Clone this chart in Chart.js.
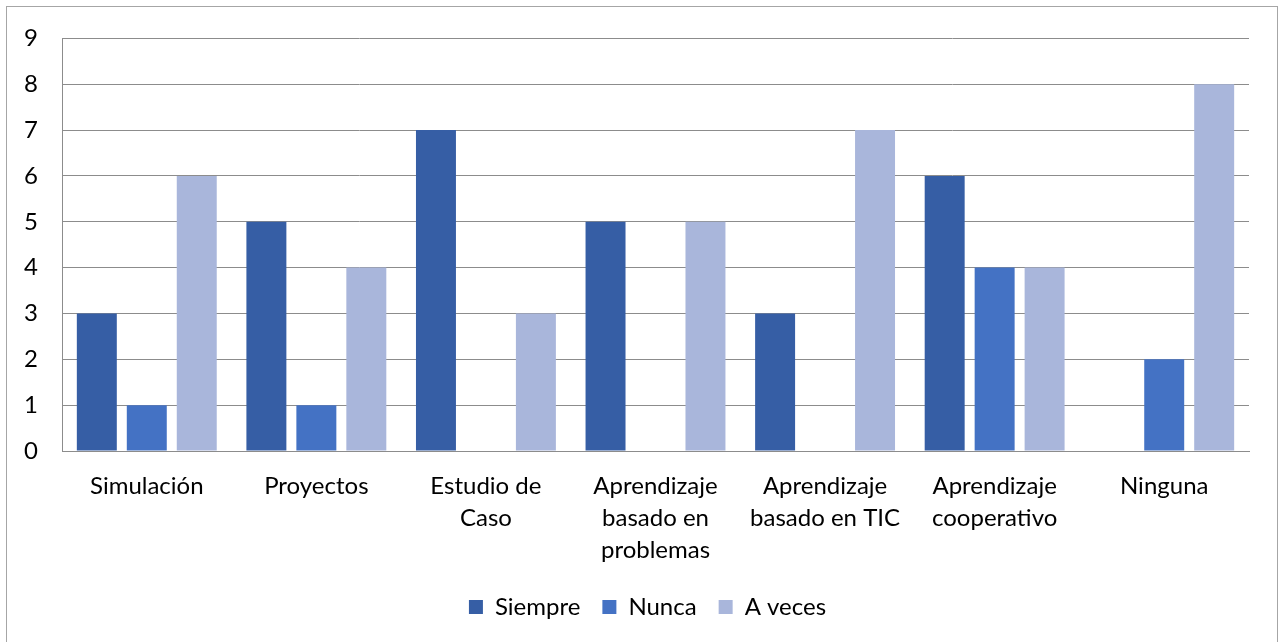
<!DOCTYPE html>
<html>
<head>
<meta charset="utf-8">
<script src="https://cdn.jsdelivr.net/npm/chart.js@4"></script>
<style>
  body { margin: 0; background: #fff; }
  #marco { position: absolute; left: 6px; top: 6px; width: 1270px; height: 650px; border: 1px solid #a6a6a6; }
  #wrap { position: absolute; left: 0; top: 0; width: 1282px; height: 642px; }
</style>
</head>
<body>
<div id="marco"></div>
<div id="wrap"><canvas id="grafico"></canvas></div>
<script>
// Datos del gráfico
const categorias = ['Simulación', 'Proyectos', ['Estudio de', 'Caso'], ['Aprendizaje', 'basado en', 'problemas'],
    ['Aprendizaje', 'basado en TIC'], ['Aprendizaje', 'cooperativo'], 'Ninguna'];
const siempre = [3, 5, 7, 5, 3, 6, 0];
const nunca = [1, 1, 0, 0, 0, 4, 2];
const aVeces = [6, 4, 3, 5, 7, 4, 8];

const fuente = 'Lato, "Liberation Sans", sans-serif';
const gris = '#8c8c8c';

// la leyenda va un poco a la derecha, como en el original
const moverLeyenda = {
    id: 'moverLeyenda',
    afterLayout(chart) {
        chart.legend.left += 23;
        chart.legend.right += 23;
    }
};

const ctx = document.getElementById('grafico').getContext('2d');
new Chart(ctx, {
    type: 'bar',
    data: {
        labels: categorias,
        datasets: [
            { label: 'Siempre', data: siempre, backgroundColor: '#365EA5' },
            { label: 'Nunca', data: nunca, backgroundColor: '#4472C4' },
            { label: 'A veces', data: aVeces, backgroundColor: '#A9B6DB' }
        ]
    },
    options: {
        responsive: true,
        maintainAspectRatio: false,
        animation: false,
        layout: { padding: { left: 0, right: 33, top: 37, bottom: 13 } },
        datasets: { bar: { categoryPercentage: 0.884, barPercentage: 0.8 } },
        plugins: {
            tooltip: { enabled: false },
            legend: {
                position: 'bottom',
                labels: {
                    font: { family: fuente, size: 24 },
                    color: '#000',
                    boxWidth: 14,
                    boxHeight: 14,
                    padding: 22
                }
            }
        },
        scales: {
            x: {
                grid: { display: false, drawTicks: false },
                border: { color: gris },
                ticks: {
                    color: '#000',
                    font: { family: fuente, size: 24, lineHeight: 1.33 },
                    maxRotation: 0,
                    autoSkip: false,
                    padding: 19
                },
                afterFit: s => { s.height = 122; }
            },
            y: {
                min: 0,
                max: 9,
                grid: { color: gris, drawTicks: false },
                border: { color: gris },
                ticks: {
                    stepSize: 1,
                    color: '#000',
                    font: { family: fuente, size: 24 },
                    padding: 24
                },
                afterFit: s => { s.width = 62; }
            }
        }
    },
    plugins: [moverLeyenda]
});
</script>
</body>
</html>
